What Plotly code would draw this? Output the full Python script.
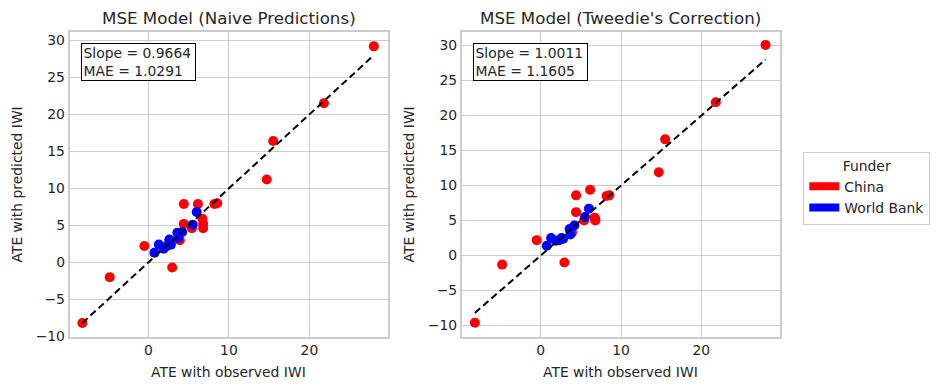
import plotly.graph_objects as go

# ---- data ----
china_obs = [28.0, 21.8, 15.5, 14.7, -8.2, -4.8, -0.5, 2.95, 4.4, 6.15, 8.2, 8.55, 4.4, 5.4, 6.7, 6.8, 6.8, 3.9]
china_naive = [29.2, 21.5, 16.4, 11.2, -8.2, -2.0, 2.2, -0.7, 7.9, 7.9, 7.9, 8.0, 5.2, 4.6, 5.9, 5.2, 4.6, 3.0]
china_tweedie = [30.1, 21.9, 16.6, 11.9, -9.6, -1.3, 2.2, -1.0, 8.6, 9.4, 8.5, 8.6, 6.2, 5.0, 5.4, 5.2, 5.0, 3.3]

wb_obs = [6.0, 5.5, 4.2, 3.6, 3.7, 2.6, 2.8, 1.9, 1.3, 0.75, 2.3]
wb_naive = [6.8, 5.1, 4.1, 4.0, 3.3, 3.1, 2.4, 1.85, 2.4, 1.3, 2.2]
wb_tweedie = [6.7, 5.5, 4.3, 3.8, 3.0, 2.5, 2.4, 2.1, 2.5, 1.4, 2.2]

titles = ["MSE Model (Naive Predictions)", "MSE Model (Tweedie's Correction)"]
stats = [("0.9664", "1.0291"), ("1.0011", "1.1605")]
x_ticks = [0, 10, 20]
y_ticks = [-10, -5, 0, 5, 10, 15, 20, 25, 30]
funders = ["China", "World Bank"]
funder_colors = ["#ff0000", "#0000ff"]

W, H = 942, 390
TXT = "#262626"
FONT = "DejaVu Sans"

fig = go.Figure()

preds = [(china_naive, wb_naive), (china_tweedie, wb_tweedie)]
all_obs = china_obs + wb_obs
lo, hi = min(all_obs), max(all_obs)

for i in range(2):
    xa = "x" if i == 0 else "x2"
    ya = "y" if i == 0 else "y2"
    cp, wp = preds[i]
    fig.add_trace(go.Scatter(x=china_obs, y=cp, mode="markers", xaxis=xa, yaxis=ya,
                             marker=dict(color=funder_colors[0], size=10, line=dict(width=0)),
                             showlegend=False, hoverinfo="skip"))
    fig.add_trace(go.Scatter(x=wb_obs, y=wp, mode="markers", xaxis=xa, yaxis=ya,
                             marker=dict(color=funder_colors[1], size=10, line=dict(width=0)),
                             showlegend=False, hoverinfo="skip"))
    fig.add_trace(go.Scatter(x=[lo, hi], y=[lo, hi], mode="lines", xaxis=xa, yaxis=ya,
                             line=dict(color="black", width=2, dash="7px,4px"),
                             showlegend=False, hoverinfo="skip"))

for name, col in zip(funders, funder_colors):
    fig.add_trace(go.Scatter(x=[None], y=[None], mode="lines", name=name,
                             line=dict(color=col, width=8), showlegend=True))

ydom = [(H - 336.7) / H, (H - 32.3) / H]
xdoms = [[69.5 / W, 388.3 / W], [461.7 / W, 780.0 / W]]
yranges = [[-10.05, 31.1], [-11.6, 31.9]]

axcommon = dict(showgrid=True, gridcolor="#cccccc", gridwidth=1.2, zeroline=False,
                showline=True, linecolor="#cccccc", linewidth=1.5, mirror=True,
                ticks="", automargin=False,
                tickfont=dict(family=FONT, size=13.9, color=TXT))

fig.update_layout(
    xaxis=dict(domain=xdoms[0], range=[-9.8, 29.8], tickvals=x_ticks, anchor="y", **axcommon),
    yaxis=dict(domain=ydom, range=yranges[0], tickvals=y_ticks, anchor="x", **axcommon),
    xaxis2=dict(domain=xdoms[1], range=[-9.84, 29.8], tickvals=x_ticks, anchor="y2", **axcommon),
    yaxis2=dict(domain=ydom, range=yranges[1], tickvals=y_ticks, anchor="x2", **axcommon),
)

ann = []
for i in range(2):
    cx = (xdoms[i][0] + xdoms[i][1]) / 2
    ann.append(dict(text=titles[i], x=cx, y=(H - 18.3) / H, xref="paper", yref="paper",
                    showarrow=False, xanchor="center", yanchor="middle",
                    font=dict(family=FONT, size=16.7, color=TXT)))
    ann.append(dict(text="ATE with observed IWI", x=cx, y=(H - 372) / H, xref="paper", yref="paper",
                    showarrow=False, xanchor="center", yanchor="middle",
                    font=dict(family=FONT, size=13.9, color=TXT)))
    ylx = [16.0, 408.0][i]
    ann.append(dict(text="ATE with predicted IWI", x=ylx / W, y=(ydom[0] + ydom[1]) / 2,
                    xref="paper", yref="paper", showarrow=False, textangle=-90,
                    xanchor="center", yanchor="middle",
                    font=dict(family=FONT, size=13.9, color=TXT)))
    bx = [80.5, 473.0][i]
    s, m = stats[i]
    ann.append(dict(text=f"Slope = {s}<br>MAE = {m}", x=bx / W, y=(H - 43.3) / H,
                    xref="paper", yref="paper", showarrow=False, xanchor="left", yanchor="top",
                    align="left", valign="middle", width=110, height=33,
                    bgcolor="white", bordercolor="black", borderwidth=1, borderpad=1.5,
                    font=dict(family=FONT, size=13.9, color=TXT)))

fig.update_layout(
    annotations=ann,
    width=W, height=H,
    margin=dict(l=0, r=0, t=0, b=0, autoexpand=False),
    paper_bgcolor="white", plot_bgcolor="white",
    font=dict(family=FONT, size=13.9, color=TXT),
    legend=dict(x=803.3 / W, y=(H - 151.7) / H, xanchor="left", yanchor="top",
                bgcolor="white", bordercolor="#cccccc", borderwidth=1,
                title=dict(text="Funder", side="top center", font=dict(family=FONT, size=13.9, color=TXT)),
                font=dict(family=FONT, size=13.9, color=TXT)),
)

fig.write_html("out.html", config={"displayModeBar": False},
               post_script="document.body.style.margin='0';document.body.style.padding='0';")
